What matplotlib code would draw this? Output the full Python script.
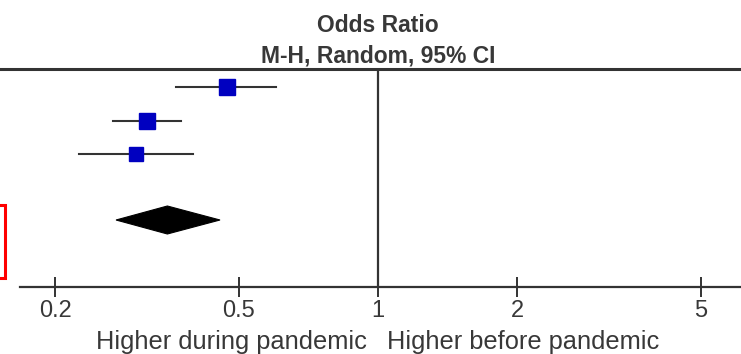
import matplotlib
matplotlib.use("Agg")
import matplotlib.pyplot as plt
from matplotlib.patches import Polygon, Rectangle

plt.rcParams['font.family'] = ['Liberation Sans', 'DejaVu Sans']

# study estimates (odds ratio with 95% CI)
study_or = [0.47, 0.316, 0.299]
study_lo = [0.365, 0.267, 0.225]
study_hi = [0.60, 0.375, 0.398]
study_size = [11.5, 11.5, 10.0]

# pooled random-effects estimate
pooled_or = 0.35
pooled_lo = 0.271
pooled_hi = 0.455

ticks = [0.2, 0.5, 1, 2, 5]
tick_labels = ['0.2', '0.5', '1', '2', '5']

# row positions (pixel rows of the panel)
study_rows = [87, 121, 154]
pooled_row = 220

W, H = 741, 354
fig = plt.figure(figsize=(W / 100, H / 100), dpi=100)

y_top, y_axis = 69, 287
ax = fig.add_axes([0, (H - y_axis) / H, 1, (y_axis - y_top) / H])
ax.set_xscale('log')
ax.set_xlim(10 ** ((0 - 378) / 462), 10 ** ((W - 378) / 462))
ax.set_ylim(y_axis, y_top)

ink = '#333333'
txt = '#383838'
for s in ['left', 'right']:
    ax.spines[s].set_visible(False)
ax.spines['top'].set_linewidth(2.2)
ax.spines['top'].set_color(ink)
ax.spines['bottom'].set_linewidth(1.6)
ax.spines['bottom'].set_color(ink)
ax.spines['bottom'].set_bounds(10 ** ((20 - 378) / 462), ax.get_xlim()[1])

ax.set_xticks(ticks)
ax.set_xticklabels(tick_labels)
ax.minorticks_off()
ax.tick_params(axis='x', direction='inout', length=15, width=1.4, color=ink,
               labelsize=17, labelcolor=txt, pad=2)
ax.set_yticks([])

ax.axvline(1, color=ink, lw=1.6, zorder=1)

for r, o, lo, hi, ms in zip(study_rows, study_or, study_lo, study_hi, study_size):
    ax.plot([lo, hi], [r, r], color=ink, lw=1.5, zorder=2)
    ax.plot(o, r, marker='s', ms=ms, color='#0000c0', mec='#0000c0', zorder=3)

diamond = Polygon([(pooled_lo, pooled_row), (pooled_or, pooled_row - 14),
                   (pooled_hi, pooled_row), (pooled_or, pooled_row + 14)],
                  closed=True, facecolor='black', edgecolor='black', lw=0.8)
ax.add_patch(diamond)

# headings and direction labels
fig.text(378 / W, 1 - 32 / H, 'Odds Ratio', ha='center', va='baseline',
         fontsize=16.5, fontweight='bold', color=txt)
fig.text(378 / W, 1 - 62 / H, 'M-H, Random, 95% CI', ha='center', va='baseline',
         fontsize=16.5, fontweight='bold', color=txt)
fig.text(367 / W, 1 - 349 / H, 'Higher during pandemic', ha='right', va='baseline',
         fontsize=18.3, color=txt)
fig.text(387 / W, 1 - 349 / H, 'Higher before pandemic', ha='left', va='baseline',
         fontsize=18.3, color=txt)

fig.add_artist(Rectangle((-0.02, (H - 278) / H), 0.02 + 5 / W, 73 / H,
                         transform=fig.transFigure, fill=False,
                         edgecolor='#ff0000', lw=2.2, clip_on=False))

fig.savefig('out.png', dpi=100)
